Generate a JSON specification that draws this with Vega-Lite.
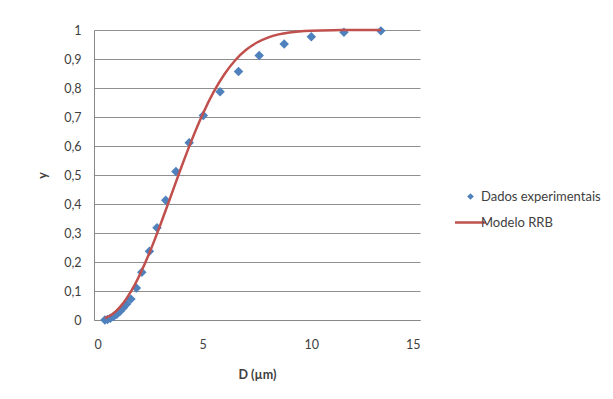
{
  "$schema": "https://vega.github.io/schema/vega-lite/v6.json",
  "width": 326,
  "height": 290,
  "autosize": {"type": "none"},
  "padding": {"left": 94, "top": 30, "right": 193, "bottom": 79},
  "background": "white",
  "config": {
    "font": "Lato",
    "view": {"stroke": null},
    "axis": {
      "labelFont": "Lato",
      "labelFontSize": 12.5,
      "labelColor": "#404040",
      "titleFont": "Lato",
      "titleFontSize": 12.5,
      "titleFontWeight": "bold",
      "titleColor": "#404040",
      "domainColor": "#878787",
      "gridColor": "#8f8f8f",
      "ticks": false,
      "labelOverlap": false
    }
  },
  "datasets": {
    "exp": [
      {"D": 0.5, "y": 0.0, "serie": "Dados experimentais"},
      {"D": 0.62, "y": 0.002, "serie": "Dados experimentais"},
      {"D": 0.75, "y": 0.006, "serie": "Dados experimentais"},
      {"D": 0.9, "y": 0.012, "serie": "Dados experimentais"},
      {"D": 1.05, "y": 0.02, "serie": "Dados experimentais"},
      {"D": 1.2, "y": 0.03, "serie": "Dados experimentais"},
      {"D": 1.35, "y": 0.042, "serie": "Dados experimentais"},
      {"D": 1.5, "y": 0.055, "serie": "Dados experimentais"},
      {"D": 1.7, "y": 0.072, "serie": "Dados experimentais"},
      {"D": 1.95, "y": 0.11, "serie": "Dados experimentais"},
      {"D": 2.2, "y": 0.165, "serie": "Dados experimentais"},
      {"D": 2.55, "y": 0.237, "serie": "Dados experimentais"},
      {"D": 2.9, "y": 0.318, "serie": "Dados experimentais"},
      {"D": 3.3, "y": 0.413, "serie": "Dados experimentais"},
      {"D": 3.77, "y": 0.512, "serie": "Dados experimentais"},
      {"D": 4.38, "y": 0.611, "serie": "Dados experimentais"},
      {"D": 5.03, "y": 0.705, "serie": "Dados experimentais"},
      {"D": 5.8, "y": 0.787, "serie": "Dados experimentais"},
      {"D": 6.65, "y": 0.857, "serie": "Dados experimentais"},
      {"D": 7.6, "y": 0.912, "serie": "Dados experimentais"},
      {"D": 8.75, "y": 0.952, "serie": "Dados experimentais"},
      {"D": 10.0, "y": 0.977, "serie": "Dados experimentais"},
      {"D": 11.5, "y": 0.992, "serie": "Dados experimentais"},
      {"D": 13.2, "y": 0.997, "serie": "Dados experimentais"}
    ],
    "model": [
      {"D": 0.5, "y": 0.0062, "serie": "Modelo RRB"},
      {"D": 0.75, "y": 0.0156, "serie": "Modelo RRB"},
      {"D": 1.0, "y": 0.03, "serie": "Modelo RRB"},
      {"D": 1.25, "y": 0.0497, "serie": "Modelo RRB"},
      {"D": 1.5, "y": 0.0747, "serie": "Modelo RRB"},
      {"D": 1.75, "y": 0.1047, "serie": "Modelo RRB"},
      {"D": 2.0, "y": 0.1396, "serie": "Modelo RRB"},
      {"D": 2.5, "y": 0.2222, "serie": "Modelo RRB"},
      {"D": 3.0, "y": 0.3175, "serie": "Modelo RRB"},
      {"D": 3.5, "y": 0.4199, "serie": "Modelo RRB"},
      {"D": 4.0, "y": 0.5231, "serie": "Modelo RRB"},
      {"D": 4.5, "y": 0.6212, "serie": "Modelo RRB"},
      {"D": 5.0, "y": 0.7097, "serie": "Modelo RRB"},
      {"D": 5.5, "y": 0.7856, "serie": "Modelo RRB"},
      {"D": 6.0, "y": 0.8476, "serie": "Modelo RRB"},
      {"D": 6.5, "y": 0.8958, "serie": "Modelo RRB"},
      {"D": 7.0, "y": 0.9316, "serie": "Modelo RRB"},
      {"D": 7.5, "y": 0.9569, "serie": "Modelo RRB"},
      {"D": 8.0, "y": 0.9739, "serie": "Modelo RRB"},
      {"D": 8.5, "y": 0.9849, "serie": "Modelo RRB"},
      {"D": 9.0, "y": 0.9916, "serie": "Modelo RRB"},
      {"D": 10.0, "y": 0.9977, "serie": "Modelo RRB"},
      {"D": 11.0, "y": 0.9995, "serie": "Modelo RRB"},
      {"D": 12.0, "y": 0.9999, "serie": "Modelo RRB"},
      {"D": 13.2, "y": 1.0, "serie": "Modelo RRB"}
    ]
  },
  "encoding": {
    "x": {
      "field": "D", "type": "quantitative",
      "scale": {"domain": [0, 15], "nice": false},
      "axis": {"values": [0, 5, 10, 15], "title": "D (µm)", "grid": false, "labelPadding": 18, "titlePadding": 18}
    },
    "y": {
      "field": "y", "type": "quantitative",
      "scale": {"domain": [0, 1], "nice": false},
      "axis": {
        "values": [0, 0.1, 0.2, 0.3, 0.4, 0.5, 0.6, 0.7, 0.8, 0.9, 1],
        "labelExpr": "datum.value == 0 ? '0' : datum.value == 1 ? '1' : replace(format(datum.value, '.1f'), '.', ',')",
        "title": "y", "titleAngle": -90, "labelPadding": 13, "titlePadding": 14
      }
    },
    "color": {
      "field": "serie", "type": "nominal",
      "scale": {"domain": ["Dados experimentais", "Modelo RRB"], "range": ["#4F81BD", "#C0504D"]},
      "legend": {
        "title": null,
        "orient": "none",
        "legendX": 370,
        "legendY": 160,
        "labelFont": "Lato",
        "labelFontSize": 13,
        "labelColor": "#404040",
        "rowPadding": 12,
        "symbolOffset": 0,
        "labelOffset": 4,
        "encode": {
          "symbols": {
            "update": {
              "shape": {"signal": "datum.label === 'Modelo RRB' ? 'stroke' : 'diamond'"},
              "size": {"signal": "datum.label === 'Modelo RRB' ? 960 : 45"},
              "fill": {"signal": "datum.label === 'Modelo RRB' ? 'transparent' : '#4F81BD'"},
              "stroke": {"signal": "datum.label === 'Modelo RRB' ? '#C0504D' : '#4F81BD'"},
              "strokeWidth": {"signal": "datum.label === 'Modelo RRB' ? 2.5 : 0"},
              "opacity": {"value": 1}
            }
          }
        }
      }
    }
  },
  "layer": [
    {
      "data": {"name": "exp"},
      "mark": {"type": "point", "shape": "diamond", "filled": true, "size": 90, "opacity": 1}
    },
    {
      "data": {"name": "model"},
      "mark": {"type": "line", "strokeWidth": 2.5, "interpolate": "monotone"}
    }
  ]
}
